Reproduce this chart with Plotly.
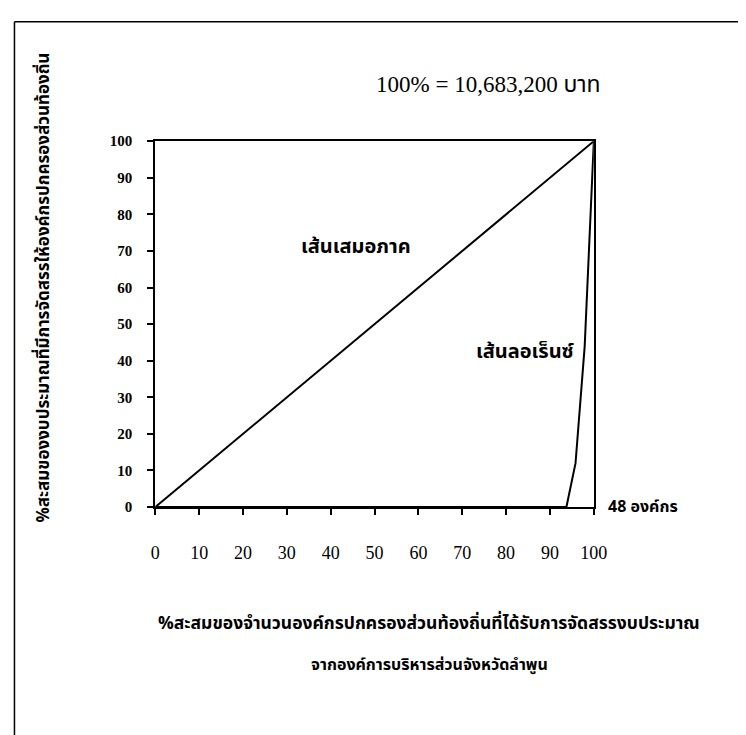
import plotly.graph_objects as go

W, H = 746, 735

# Data
equality_x = [0, 100]
equality_y = [0, 100]
lorenz_x = [0, 93.75, 95.83, 97.92, 100]
lorenz_y = [0, 0, 12, 44, 100]
tick_vals = [0, 10, 20, 30, 40, 50, 60, 70, 80, 90, 100]
tick_text = [str(v) for v in tick_vals]

title_text = "100% = 10,683,200 บาท"
equality_label = "เส้นเสมอภาค"
lorenz_label = "เส้นลอเร็นซ์"
count_label = "48 องค์กร"
x_title_1 = "%สะสมของจำนวนองค์กรปกครองส่วนท้องถิ่นที่ได้รับการจัดสรรงบประมาณ"
x_title_2 = "จากองค์การบริหารส่วนจังหวัดลำพูน"
y_title = "%สะสมของงบประมาณที่มีการจัดสรรให้องค์กรปกครองส่วนท้องถิ่น"

SERIF = "Liberation Serif, Times New Roman, DejaVu Serif, serif"
THAI = "Noto Sans Thai, Loma, Garuda, Tlwg Typo, DejaVu Sans, sans-serif"

def px(x):
    return x / W

def py(y):
    return 1 - y / H

fig = go.Figure()
fig.add_trace(go.Scatter(x=equality_x, y=equality_y, mode="lines",
                         line=dict(color="black", width=2), showlegend=False, hoverinfo="skip"))
fig.add_trace(go.Scatter(x=lorenz_x, y=lorenz_y, mode="lines",
                         line=dict(color="black", width=2), showlegend=False, hoverinfo="skip"))

axis_common = dict(showline=True, linecolor="black", linewidth=2, mirror=True,
                   showgrid=False, zeroline=False, ticks="outside", ticklen=6,
                   tickwidth=1.5, tickcolor="black", range=[0, 100],
                   tickvals=tick_vals, ticktext=tick_text)

fig.update_layout(
    width=W, height=H,
    margin=dict(l=0, r=0, t=0, b=0),
    paper_bgcolor="white", plot_bgcolor="white",
    xaxis=dict(domain=[px(146), px(596)],
               tickfont=dict(family=SERIF, size=18, color="black"),
               ticklabelstandoff=22, **axis_common),
    yaxis=dict(domain=[py(502), py(128)],
               tickfont=dict(family=SERIF, size=15, color="black", weight="bold"),
               ticklabelstandoff=12, **axis_common),
    shapes=[
        dict(type="line", xref="paper", yref="paper", x0=px(1.5), x1=1, y0=py(6), y1=py(6),
             line=dict(color="black", width=1.5)),
        dict(type="line", xref="paper", yref="paper", x0=px(1.5), x1=px(1.5), y0=py(6), y1=0,
             line=dict(color="black", width=1.5)),
    ],
    annotations=[
        dict(text=title_text, xref="paper", yref="paper", x=px(488), y=py(55),
             showarrow=False, font=dict(family=SERIF + ", " + THAI, size=23, color="black")),
        dict(text=equality_label, x=58.7, y=71, xref="x", yref="y", xanchor="right",
             showarrow=False, font=dict(family=THAI, size=20, color="black", weight="bold")),
        dict(text=lorenz_label, x=96, y=42.5, xref="x", yref="y", xanchor="right",
             showarrow=False, font=dict(family=THAI, size=20, color="black", weight="bold")),
        dict(text=count_label, xref="paper", yref="y", x=px(609), y=0, xanchor="left",
             showarrow=False, font=dict(family=THAI, size=16, color="black", weight="bold")),
        dict(text=x_title_1, xref="paper", yref="paper", x=px(427), y=py(637),
             showarrow=False, font=dict(family=THAI, size=17.5, color="black", weight="bold")),
        dict(text=x_title_2, xref="paper", yref="paper", x=px(427), y=py(678),
             showarrow=False, font=dict(family=THAI, size=16, color="black", weight="bold")),
        dict(text=y_title, xref="paper", yref="paper", x=px(16), y=py(278), textangle=-90,
             showarrow=False, font=dict(family=THAI, size=17, color="black", weight="bold")),
    ],
)

fig.write_html("out.html")
